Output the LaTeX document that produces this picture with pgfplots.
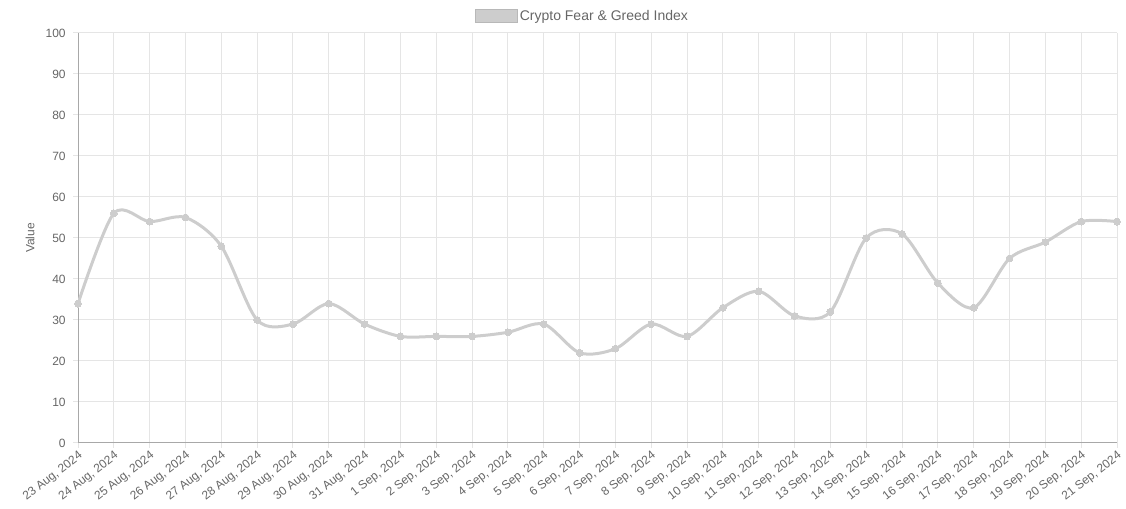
\documentclass[border=0pt]{standalone}
\usepackage{fontspec}
\setmainfont{Liberation Sans}
\usepackage{pgfplots}
\pgfplotsset{compat=1.18}
\definecolor{txt}{HTML}{666666}
\definecolor{gridc}{HTML}{E5E5E5}
\definecolor{axc}{HTML}{A8A8A8}
\definecolor{linec}{HTML}{CDCDCD}
\begin{document}
\begin{tikzpicture}
\path[use as bounding box] (0pt,0pt) rectangle (844.5pt,381.75pt);
\begin{axis}[
  at={(58.5pt,49.5pt)}, anchor=south west,
  scale only axis, width=779.25pt, height=307.5pt,
  xmin=0, xmax=29, ymin=0, ymax=100,
  xtick={0,...,29},
  xticklabels={{23 Aug, 2024},{24 Aug, 2024},{25 Aug, 2024},{26 Aug, 2024},{27 Aug, 2024},{28 Aug, 2024},{29 Aug, 2024},{30 Aug, 2024},{31 Aug, 2024},{1 Sep, 2024},{2 Sep, 2024},{3 Sep, 2024},{4 Sep, 2024},{5 Sep, 2024},{6 Sep, 2024},{7 Sep, 2024},{8 Sep, 2024},{9 Sep, 2024},{10 Sep, 2024},{11 Sep, 2024},{12 Sep, 2024},{13 Sep, 2024},{14 Sep, 2024},{15 Sep, 2024},{16 Sep, 2024},{17 Sep, 2024},{18 Sep, 2024},{19 Sep, 2024},{20 Sep, 2024},{21 Sep, 2024}},
  ytick={0,10,...,100},
  grid=major,
  major grid style={gridc, line width=0.75pt},
  axis x line=bottom, axis y line=left,
  axis line style={-, axc, line width=0.75pt},
  tick align=outside, major tick length=3.75pt,
  tick style={gridc, line width=0.75pt},
  /pgf/number format/assume math mode=true,
  ticklabel style={font=\fontsize{9}{11}\selectfont, text=txt},
  xticklabel style={rotate=38, anchor=north east, inner sep=1pt},
  yticklabel style={xshift=-2pt},
  ylabel={Value},
  every axis y label/.style={at={(axis description cs:-0.0462,0.5)}, rotate=90, anchor=center,
    font=\fontsize{9}{11}\selectfont, text=txt},
  legend style={at={(0.4856,1.0415)}, anchor=center, draw=none, fill=none,
    font=\fontsize{10.5}{12}\selectfont, text=txt},
  legend image code/.code={\filldraw[fill=linec, draw=linec!90!black, line width=0.5pt] (0pt,-4.875pt) rectangle (31.5pt,4.875pt);},
]
\addplot[linec, line width=2.25pt, smooth, tension=0.5, mark=*, mark size=2.6pt, mark options={fill=linec, draw=linec, line width=0pt}]
coordinates {
(0,34) (1,56) (2,54) (3,55) (4,48) (5,30) (6,29) (7,34) (8,29) (9,26)
(10,26) (11,26) (12,27) (13,29) (14,22) (15,23) (16,29) (17,26) (18,33) (19,37)
(20,31) (21,32) (22,50) (23,51) (24,39) (25,33) (26,45) (27,49) (28,54) (29,54)
};
\addlegendentry{Crypto Fear \& Greed Index}
\end{axis}
\end{tikzpicture}
\end{document}
